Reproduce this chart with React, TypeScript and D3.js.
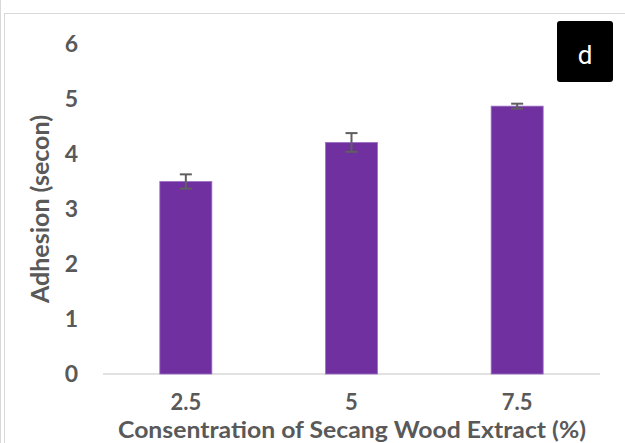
import React from "react";
import * as d3 from "d3";

const categories = ["2.5", "5", "7.5"];
const values = [3.5, 4.21, 4.87];
const errors = [0.13, 0.17, 0.045];
const yTicks = [0, 1, 2, 3, 4, 5, 6];
const xTitle = "Consentration of Secang Wood Extract (%)";
const yTitle = "Adhesion (secon)";
const panelLabel = "d";

const W = 625;
const H = 443;
const FONT = "Lato, 'Open Sans', sans-serif";
const GREY = "#595959";

export default function App() {
  const x = d3
    .scaleBand<string>()
    .domain(categories)
    .range([103, 600])
    .paddingInner(0.686)
    .paddingOuter(0.343);
  const y = d3.scaleLinear().domain([0, 6]).range([374, 44]);

  return (
    <svg
      width={W}
      height={H}
      style={{ position: "absolute", left: 0, top: 0, background: "#fff" }}
    >
      <line x1={0.5} y1={0} x2={0.5} y2={H} stroke="#d9d9d9" strokeWidth={1} />
      <rect x={4.5} y={13.5} width={W + 10} height={H + 10} fill="#fff" stroke="#d9d9d9" strokeWidth={1} />

      {/* y tick labels */}
      {yTicks.map((t) => (
        <text
          key={t}
          x={78}
          y={y(t)}
          dy="0.36em"
          textAnchor="end"
          fontFamily={FONT}
          fontWeight="bold"
          fontSize={23}
          fill={GREY}
        >
          {t}
        </text>
      ))}

      {/* baseline */}
      <line x1={103} x2={600} y1={y(0)} y2={y(0)} stroke="#d9d9d9" strokeWidth={1.5} />

      {/* bars */}
      {categories.map((c, i) => (
        <rect
          key={c}
          x={x(c)!}
          y={y(values[i])}
          width={x.bandwidth()}
          height={y(0) - y(values[i])}
          fill="#7030A0"
          stroke="#9b6fc4"
          strokeWidth={0.8}
        />
      ))}

      {/* error bars */}
      {categories.map((c, i) => {
        const cx = x(c)! + x.bandwidth() / 2;
        const top = y(values[i] + errors[i]);
        const bot = y(values[i] - errors[i]);
        return (
          <g key={"e" + c} stroke="#5f5f5f" strokeWidth={2}>
            <line x1={cx} x2={cx} y1={top} y2={bot} />
            <line x1={cx - 6} x2={cx + 6} y1={top} y2={top} />
            <line x1={cx - 6} x2={cx + 6} y1={bot} y2={bot} />
          </g>
        );
      })}

      {/* x tick labels */}
      {categories.map((c) => (
        <text
          key={"t" + c}
          x={x(c)! + x.bandwidth() / 2}
          y={410}
          textAnchor="middle"
          fontFamily={FONT}
          fontWeight="bold"
          fontSize={22}
          fill={GREY}
        >
          {c}
        </text>
      ))}

      {/* x title */}
      <text
        x={352}
        y={438}
        textAnchor="middle"
        fontFamily={FONT}
        fontWeight="bold"
        fontSize={22}
        textLength={468}
        lengthAdjust="spacingAndGlyphs"
        fill={GREY}
      >
        {xTitle}
      </text>

      {/* y title */}
      <text
        transform={`translate(49, ${(y(0) + y(6)) / 2}) rotate(-90)`}
        textAnchor="middle"
        fontFamily={FONT}
        fontWeight="bold"
        fontSize={24}
        textLength={188}
        lengthAdjust="spacingAndGlyphs"
        fill={GREY}
      >
        {yTitle}
      </text>

      {/* panel label */}
      <rect x={557} y={21} width={56} height={61} rx={3} fill="#000" />
      <text
        x={585}
        y={64}
        textAnchor="middle"
        fontFamily="Roboto, 'Open Sans', sans-serif"
        fontSize={26}
        fill="#fff"
      >
        {panelLabel}
      </text>
    </svg>
  );
}
